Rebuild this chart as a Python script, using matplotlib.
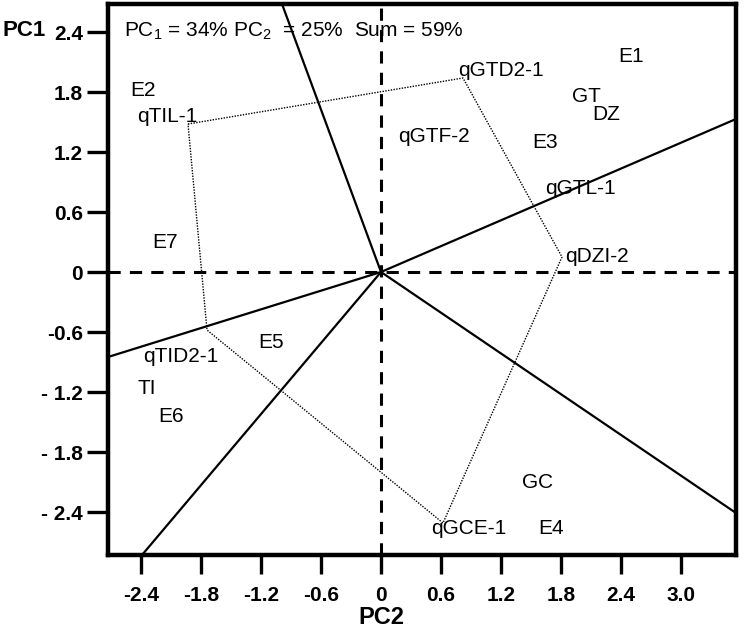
import matplotlib
matplotlib.use("Agg")
import matplotlib.pyplot as plt

plt.rcParams['font.family'] = ['Liberation Sans', 'DejaVu Sans']
plt.rcParams['mathtext.fontset'] = 'custom'
plt.rcParams['mathtext.rm'] = 'Liberation Sans'
plt.rcParams['mathtext.it'] = 'Liberation Sans:italic'
plt.rcParams['mathtext.bf'] = 'Liberation Sans:bold'

# --- data ---
# polygon vertices (QTL markers on the hull)
poly_names = ['qTIL-1', 'qGTD2-1', 'qDZI-2', 'qGCE-1', 'qTID2-1']
poly_x = [-1.93, 0.82, 1.81, 0.62, -1.74]
poly_y = [1.48, 1.94, 0.15, -2.51, -0.58]

# label anchors (left edge, vertical centre)
label_names = ['E1', 'qGTD2-1', 'GT', 'DZ', 'qGTF-2', 'E3', 'qGTL-1', 'qDZI-2',
               'E2', 'qTIL-1', 'E7', 'qTID2-1', 'TI', 'E6', 'E5',
               'GC', 'qGCE-1', 'E4']
label_x = [2.37, 0.77, 1.91, 2.11, 0.17, 1.51, 1.64, 1.84,
           -2.51, -2.44, -2.29, -2.38, -2.44, -2.23, -1.23,
           1.41, 0.50, 1.57]
label_y = [2.16, 2.02, 1.76, 1.57, 1.35, 1.29, 0.83, 0.15,
           1.82, 1.55, 0.30, -0.85, -1.17, -1.44, -0.70,
           -2.11, -2.57, -2.56]

# rays from the origin (end points at the frame)
ray_x = [-0.99, 3.55, -2.73, -2.39, 3.55]
ray_y = [2.68, 1.53, -0.85, -2.83, -2.41]

xticks = [-2.4, -1.8, -1.2, -0.6, 0, 0.6, 1.2, 1.8, 2.4, 3.0]
xtick_labels = ['-2.4', '-1.8', '-1.2', '-0.6', '0', '0.6', '1.2', '1.8', '2.4', '3.0']
yticks = [2.4, 1.8, 1.2, 0.6, 0, -0.6, -1.2, -1.8, -2.4]
ytick_labels = ['2.4', '1.8', '1.2', '0.6', '0', '-0.6', '- 1.2', '- 1.8', '- 2.4']

xlim = (-2.73, 3.55)
ylim = (-2.83, 2.68)

# --- plot ---
fig = plt.figure(figsize=(7.46, 6.33), dpi=100)
ax = fig.add_axes([108 / 746, 1 - 555 / 633, (736 - 108) / 746, (555 - 4) / 633])

# dashed axes through origin
ax.axvline(0, color='black', linestyle=(0, (4, 3)), linewidth=2.2)
ax.axhline(0, color='black', linestyle=(0, (4, 3)), linewidth=2.2)

# rays
for rx, ry in zip(ray_x, ray_y):
    ax.plot([0, rx], [0, ry], color='black', linewidth=1.6, solid_capstyle='butt')

# dotted polygon
ax.plot(poly_x + poly_x[:1], poly_y + poly_y[:1], color='black',
        linestyle=(0, (1, 1)), linewidth=1.0)

for name, x, y in zip(label_names, label_x, label_y):
    ax.text(x, y, name, fontsize=15, ha='left', va='center')

fig.text(124 / 746, 1 - 31 / 633, 'PC$_1$ = 34% PC$_2$  = 25%  Sum = 59%',
         fontsize=15, ha='left', va='center')

ax.set_xlim(*xlim)
ax.set_ylim(*ylim)
ax.set_xticks(xticks)
ax.set_xticklabels(xtick_labels, fontsize=15, fontweight='bold')
ax.set_yticks(yticks)
ax.set_yticklabels(ytick_labels, fontsize=15, fontweight='bold')
ax.tick_params(axis='y', direction='out', length=15, width=2.4, pad=3)
ax.tick_params(axis='x', direction='out', length=14, width=2.4, pad=8)

for s in ax.spines.values():
    s.set_linewidth(3.2)

fig.text(3 / 746, 1 - 31 / 633, 'PC1', fontsize=16, fontweight='bold',
         ha='left', va='center')
fig.text(381 / 746, 1 - 617 / 633, 'PC2', fontsize=17, fontweight='bold',
         ha='center', va='center')

fig.savefig('out.png', dpi=100)
